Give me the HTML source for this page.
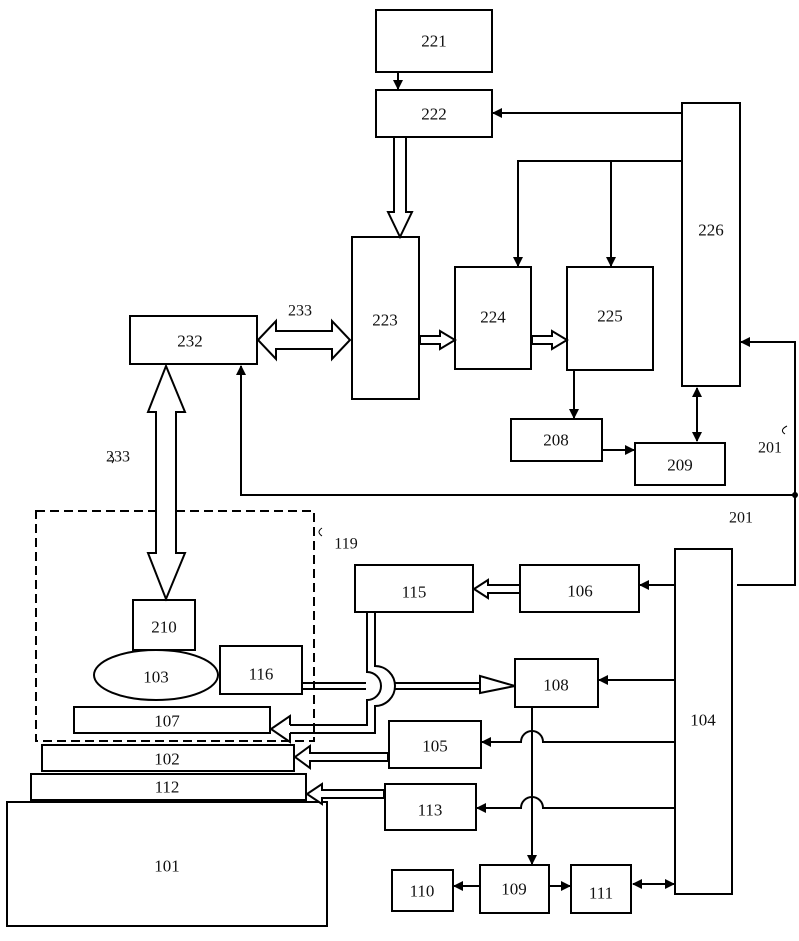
<!DOCTYPE html>
<html><head><style>
html,body{margin:0;padding:0;background:#fff;}
svg{display:block;}
text{font-family:"Liberation Serif",serif;font-size:17px;text-anchor:middle;dominant-baseline:central;fill:#111;}
</style></head><body>
<svg width="799" height="941" viewBox="0 0 799 941" xmlns="http://www.w3.org/2000/svg">
<defs>
<marker id="a" markerWidth="10" markerHeight="10" refX="9" refY="5" orient="auto" markerUnits="userSpaceOnUse" viewBox="0 0 10 10"><path d="M0,0 L10,5 L0,10 z" fill="#000"/></marker>
<marker id="as" markerWidth="10" markerHeight="10" refX="1" refY="5" orient="auto" markerUnits="userSpaceOnUse" viewBox="0 0 10 10"><path d="M10,0 L0,5 L10,10 z" fill="#000"/></marker>
</defs>
<g fill="#fff" stroke="#000" stroke-width="2">
<rect x="376" y="10" width="116" height="62"/>
<rect x="376" y="90" width="116" height="47"/>
<rect x="352" y="237" width="67" height="162"/>
<rect x="455" y="267" width="76" height="102"/>
<rect x="567" y="267" width="86" height="103"/>
<rect x="682" y="103" width="58" height="283"/>
<rect x="130" y="316" width="127" height="48"/>
<rect x="511" y="419" width="91" height="42"/>
<rect x="635" y="443" width="90" height="42"/>
<rect x="355" y="565" width="118" height="47"/>
<rect x="520" y="565" width="119" height="47"/>
<rect x="675" y="549" width="57" height="345"/>
<rect x="515" y="659" width="83" height="48"/>
<rect x="389" y="721" width="92" height="47"/>
<rect x="385" y="784" width="91" height="46"/>
<rect x="480" y="865" width="69" height="48"/>
<rect x="392" y="870" width="61" height="41"/>
<rect x="571" y="865" width="60" height="48"/>
<rect x="133" y="600" width="62" height="50"/>
<ellipse cx="156" cy="675" rx="62" ry="25"/>
<rect x="220" y="646" width="82" height="48"/>
<rect x="74" y="707" width="196" height="26"/>
<rect x="42" y="745" width="252" height="26"/>
<rect x="31" y="774" width="275" height="26"/>
<rect x="7" y="802" width="320" height="124"/>
</g>
<rect x="36" y="511" width="278" height="230" fill="none" stroke="#000" stroke-width="2" stroke-dasharray="9,5"/>
<g>
<text x="434" y="41">221</text><text x="434" y="114">222</text><text x="385" y="320">223</text>
<text x="493" y="317">224</text><text x="610" y="316">225</text><text x="711" y="230">226</text>
<text x="190" y="341">232</text><text x="556" y="440">208</text><text x="680" y="465">209</text>
<text x="414" y="592">115</text><text x="580" y="591">106</text><text x="703" y="720">104</text>
<text x="556" y="685">108</text><text x="435" y="746">105</text><text x="430" y="810">113</text>
<text x="514" y="889">109</text><text x="422" y="891">110</text><text x="601" y="893">111</text>
<text x="164" y="627">210</text><text x="156" y="677">103</text><text x="261" y="674">116</text>
<text x="167" y="721">107</text><text x="167" y="759">102</text><text x="167" y="787">112</text>
<text x="167" y="866">101</text>
<text x="300" y="311" style="font-size:16px">233</text>
<text x="118" y="457" style="font-size:16px">233</text>
<text x="741" y="518" style="font-size:16px">201</text>
<text x="770" y="448" style="font-size:16px">201</text>
<text x="346" y="544" style="font-size:16px">119</text>
</g>
<g fill="none" stroke="#000" stroke-width="2">
<line x1="398" y1="72" x2="398" y2="89" marker-end="url(#a)"/>
<line x1="682" y1="113" x2="493" y2="113" marker-end="url(#a)"/>
<polyline points="682,161 518,161 518,266" marker-end="url(#a)"/>
<line x1="611" y1="161" x2="611" y2="266" marker-end="url(#a)"/>
<line x1="574" y1="370" x2="574" y2="418" marker-end="url(#a)"/>
<line x1="602" y1="450" x2="634" y2="450" marker-end="url(#a)"/>
<line x1="697" y1="388" x2="697" y2="441" marker-start="url(#as)" marker-end="url(#a)"/>
<polyline points="737,585 795,585 795,342 741,342" marker-end="url(#a)"/>
<polyline points="795,495 241,495 241,366" marker-end="url(#a)"/>
<line x1="675" y1="585" x2="640" y2="585" marker-end="url(#a)"/>
<line x1="675" y1="680" x2="599" y2="680" marker-end="url(#a)"/>
<path d="M675,742 H543 a11,11 0 0 0 -22,0 H482" marker-end="url(#a)"/>
<path d="M675,808 H543 a11,11 0 0 0 -22,0 H477" marker-end="url(#a)"/>
<line x1="532" y1="707" x2="532" y2="864" marker-end="url(#a)"/>
<line x1="480" y1="886" x2="454" y2="886" marker-end="url(#a)"/>
<line x1="549" y1="886" x2="570" y2="886" marker-end="url(#a)"/>
<line x1="633" y1="884" x2="674" y2="884" marker-start="url(#as)" marker-end="url(#a)"/>
<path d="M322,536 q-6,-4 0,-8 M785,434 q-6,-4 2,-8 M112,463 q4,-4 -2,-8" stroke-width="1"/>
</g>
<circle cx="795" cy="495" r="3" fill="#000"/>
<g fill="#fff" stroke="#000" stroke-width="2">
<polygon points="258,340 276,321 276,331 332,331 332,321 350,340 332,359 332,349 276,349 276,359"/>
<polygon points="166,366 185,412 176,412 176,553 185,553 166,599 148,553 156,553 156,412 148,412"/>
<polygon points="394,137 394,212 388,212 400,237 412,212 406,212 406,137"/>
<polygon points="420,336 440,336 440,331 455,340 440,349 440,344 420,344"/>
<polygon points="532,336 552,336 552,331 567,340 552,349 552,344 532,344"/>
<polygon points="520,585 488,585 488,580 474,589 488,598 488,593 520,593"/>
<polygon points="388,753 310,753 310,746 295,757 310,768 310,761 388,761"/>
<polygon points="384,790 322,790 322,784 307,794 322,804 322,798 384,798"/>
</g>
<g fill="none" stroke="#000" stroke-width="2">
<path d="M302,683 H366 M302,689 H366"/>
<path d="M394,683 H480 M394,689 H480"/>
<path d="M480,676 L515,686 L480,693 Z" fill="#fff"/>
<path d="M375,612 V666 A20,20 0 0 1 375,706 V733 H290"/>
<path d="M367,612 V672 A14,14 0 0 1 367,700 V725 H290"/>
<path d="M290,725 V716 L271,729 L290,742 V733" fill="#fff"/>
</g>
</svg>
</body></html>
